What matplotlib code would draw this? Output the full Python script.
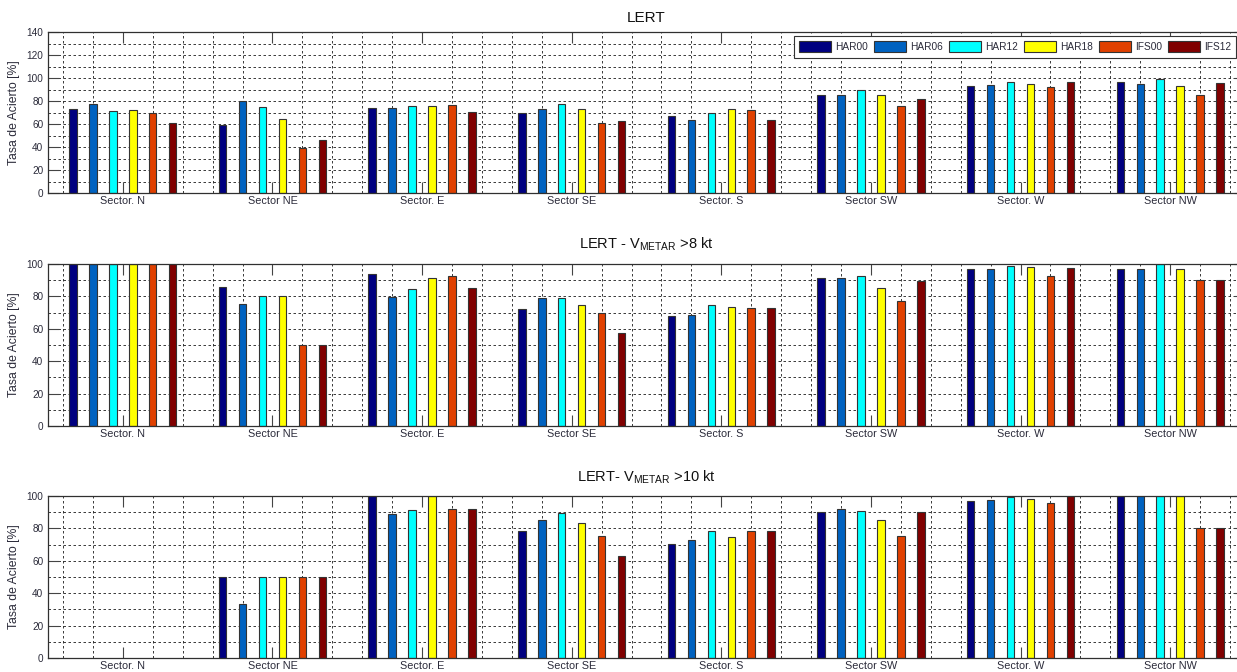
import numpy as np
import matplotlib
matplotlib.use('Agg')
import matplotlib.pyplot as plt
from matplotlib.ticker import MultipleLocator

plt.rcParams['font.family'] = ['Liberation Sans', 'DejaVu Sans']
plt.rcParams['mathtext.fontset'] = 'custom'
plt.rcParams['mathtext.rm'] = 'Liberation Sans'

SECTORS = ['Sector. N', 'Sector NE', 'Sector. E', 'Sector SE',
           'Sector. S', 'Sector SW', 'Sector. W', 'Sector NW']
MODELS = ['HAR00', 'HAR06', 'HAR12', 'HAR18', 'IFS00', 'IFS12']
COLORS = ['#000080', '#0062C0', '#00FFFF', '#FFFF00', '#E04000', '#800000']

# tasa de acierto por modelo (filas) y sector (columnas)
LERT = [
    [73.0, 59.0, 73.5, 70.0, 67.3, 85.4, 93.2, 96.7],
    [77.7, 80.0, 74.2, 73.0, 63.8, 85.4, 93.8, 94.4],
    [71.6, 74.5, 75.3, 77.1, 69.9, 89.8, 96.1, 98.7],
    [72.2, 64.7, 75.6, 72.7, 72.7, 85.4, 94.4, 93.2],
    [69.9, 38.7, 76.2, 60.9, 71.9, 75.6, 91.8, 84.9],
    [60.9, 46.2, 70.1, 62.6, 63.2, 81.4, 96.1, 95.3],
]
LERT_V8 = [
    [100, 86.0, 94.0, 72.4, 68.1, 91.4, 96.9, 96.9],
    [100, 75.5, 79.4, 79.0, 68.7, 91.4, 96.9, 96.9],
    [100, 80.0, 84.6, 79.0, 74.7, 92.4, 98.8, 100],
    [100, 80.0, 91.1, 74.9, 73.5, 85.4, 98.1, 96.9],
    [100, 50.0, 92.8, 70.0, 72.8, 77.4, 92.4, 90.3],
    [100, 50.0, 85.0, 57.2, 73.0, 89.3, 97.3, 90.3],
]
LERT_V10 = [
    [np.nan, 50.0, 100, 78.7, 70.3, 90.0, 96.9, 100],
    [np.nan, 33.3, 89.1, 85.0, 72.7, 92.2, 97.5, 100],
    [np.nan, 50.0, 91.6, 89.8, 78.1, 91.0, 99.5, 100],
    [np.nan, 50.0, 100, 83.6, 74.8, 85.0, 98.4, 100],
    [np.nan, 50.0, 92.2, 75.4, 78.1, 75.2, 95.5, 80.0],
    [np.nan, 50.0, 92.2, 63.1, 78.1, 90.4, 100, 80.0],
]

TITLES = ['LERT',
          r'LERT - V$_{\mathregular{METAR}}$ >8 kt',
          r'LERT- V$_{\mathregular{METAR}}$ >10 kt']
YMAX = [140, 100, 100]

TXT = '#2b2b3a'
EDGE = '#333333'

W, H = 1237, 672
fig = plt.figure(figsize=(W / 100, H / 100), dpi=100)

# caja de cada panel en pixeles: (izq, arriba, ancho, alto)
boxes = [(48, 32, 1197, 161), (48, 264, 1197, 162), (48, 496, 1197, 162)]
title_pads = [7.5, 11, 10.5]
title_sizes = [11, 10.5, 10.5]

x = np.arange(1, len(SECTORS) + 1)
offsets = (np.arange(len(MODELS)) - 2.5) * 0.1333

for k, (data, title, ymax) in enumerate(zip([LERT, LERT_V8, LERT_V10], TITLES, YMAX)):
    l, t, w, h = boxes[k]
    ax = fig.add_axes([l / W, 1 - (t + h) / H, w / W, h / H])

    for i, model in enumerate(MODELS):
        ax.bar(x + offsets[i], data[i], width=0.05, color=COLORS[i],
               edgecolor=EDGE, linewidth=0.8, label=model, zorder=3)

    ax.set_xlim(0.5, 8.5)
    ax.set_ylim(0, ymax)
    ax.set_xticks(x)
    ax.set_xticklabels(SECTORS)
    ax.xaxis.set_minor_locator(MultipleLocator(0.2))
    ax.yaxis.set_major_locator(MultipleLocator(20))
    ax.yaxis.set_minor_locator(MultipleLocator(10))

    ax.grid(False, axis='x', which='major')
    ax.grid(True, axis='x', which='minor', color='#1a1a1a',
            linestyle=(0, (3, 3)), linewidth=0.6)
    ax.grid(True, axis='y', which='both', color='#1a1a1a',
            linestyle=(0, (3, 3)), linewidth=0.6)
    ax.set_axisbelow(True)

    ax.tick_params(which='major', direction='in', length=8, width=0.8,
                   color='#444444', top=True, right=True,
                   labelcolor=TXT)
    ax.tick_params(which='minor', length=0, top=True, right=True)
    ax.tick_params(axis='x', labelsize=7.8, pad=2.5)
    ax.tick_params(axis='y', labelsize=7.2, pad=3.4)

    for sp in ax.spines.values():
        sp.set_color('#303030')
        sp.set_linewidth(0.9)
        sp.set_zorder(4)

    ax.set_ylabel('Tasa de Acierto [%]', fontsize=8.8, color=TXT, labelpad=4.5)
    ax.set_title(title, fontsize=title_sizes[k], color='#111111', pad=title_pads[k])

    if k == 0:
        ax.legend(loc='upper left', bbox_to_anchor=(0.6230, 0.978), ncol=6,
                  fontsize=7.3, frameon=True, fancybox=False, framealpha=1,
                  edgecolor='#333333', borderaxespad=0, borderpad=0.55,
                  handlelength=3.15, handleheight=1.3, handletextpad=0.4,
                  columnspacing=0.6, labelcolor=TXT)
        ax.get_legend().get_frame().set_linewidth(0.8)
        ax.get_legend().set_zorder(6)

fig.savefig('out.png', dpi=100)
